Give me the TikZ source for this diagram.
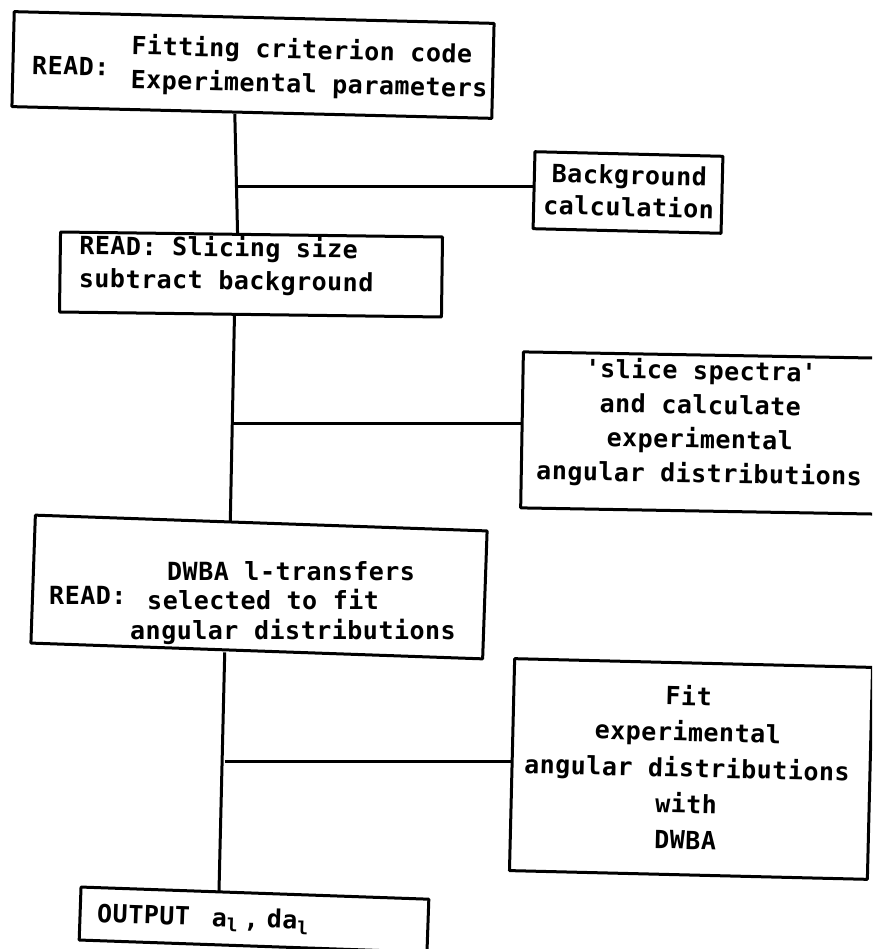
\documentclass[tikz,border=0pt]{standalone}
\usepackage{fontspec}
\setmainfont{DejaVu Sans Mono}[LetterSpace=2]
\usetikzlibrary{calc}
\newcommand{\lsub}{\raisebox{-5pt}{\fontsize{18}{18}\selectfont l}}
\begin{document}
\begin{tikzpicture}[x=1pt,y=-1pt,
  stepbox/.style={draw, line width=3pt, inner sep=0pt, line join=round},
  boxtext/.style={inner sep=0pt, font=\fontsize{25}{34}\selectfont\bfseries},
  link/.style={line width=3pt}]
\useasboundingbox (0,0) rectangle (872,949);
\clip (0,0) rectangle (872,949);

% ---- boxes ----
\node[stepbox, rotate=-1.4, minimum width=480pt, minimum height=95pt]  (read1) at (253,65) {};
\node[stepbox, rotate=-1.4, minimum width=188pt, minimum height=77pt]  (bg)    at (628,192.5) {};
\node[stepbox, rotate=-0.75, minimum width=382pt, minimum height=80pt] (read2) at (251,274.5) {};
\node[stepbox, rotate=-1.0, minimum width=356pt, minimum height=156pt] (slice) at (700,433) {};
\node[stepbox, rotate=-2.0, minimum width=452pt, minimum height=128pt] (read3) at (259,587) {};
\node[stepbox, rotate=-1.4, minimum width=358pt, minimum height=212pt] (fit)   at (691,769) {};
\node[stepbox, rotate=-2.0, minimum width=348pt, minimum height=53pt]  (out)   at (254,919.6) {};

% ---- texts ----
\node[boxtext, anchor=west, rotate=-1.4] (read1key) at (32,65) {READ:};
\node[boxtext, anchor=west, align=left, rotate=-1.4] (read1txt) at (131,64)
  {Fitting criterion code\\Experimental parameters};
\node[boxtext, align=center, rotate=-1.4, font=\fontsize{25}{32}\selectfont\bfseries] (bgtxt) at (629,191)
  {Background\\calculation};
\node[boxtext, anchor=west, align=left, rotate=-0.75, font=\fontsize{25}{33}\selectfont\bfseries] (read2txt) at (79,263.5)
  {READ: Slicing size\\subtract background};
\node[boxtext, align=center, rotate=-1.0, font=\fontsize{25}{34.3}\selectfont\bfseries] (slicetxt) at (700,423.5)
  {\textquotesingle slice spectra\textquotesingle\\and calculate\\experimental\\angular distributions};
\node[boxtext, anchor=west] (read3key) at (49,595) {READ:};
\node[boxtext, anchor=west, align=left, font=\fontsize{25}{29.5}\selectfont\bfseries] (read3txt) at (130,603)
  {\hspace*{37pt}DWBA l-transfers\\\hspace*{17pt}selected to fit\\angular distributions};
\node[boxtext, align=center, rotate=-1.4, font=\fontsize{25}{36}\selectfont\bfseries] (fittxt) at (687,767)
  {Fit\\experimental\\angular distributions\\with\\DWBA};
\node[boxtext, anchor=west, rotate=-2.0] (outtxt) at (97,915)
  {OUTPUT\hspace{22pt}a\lsub\hspace{6pt},\hspace{8pt}da\lsub};

% ---- main flow line and branches ----
\coordinate (m1) at ([xshift=-17pt]read1.south);
\coordinate (m2) at ([xshift=-16pt]read2.south);
\coordinate (m3) at ([xshift=-32pt]read3.south);
\draw[link] (m1) -- ([xshift=-14pt]read2.north);
\draw[link] (m2) -- ([xshift=-31pt]read3.north);
\draw[link] (m3) -- ([xshift=-36pt]out.north);
\draw[link] ([yshift=4pt]bg.west -| m1) -- ([yshift=4pt]bg.west);
\draw[link] ([yshift=6pt]slice.west -| m2) -- ([yshift=6pt]slice.west);
\draw[link] ([yshift=3pt]fit.west -| m3) -- ([yshift=3pt]fit.west);
\end{tikzpicture}
\end{document}
